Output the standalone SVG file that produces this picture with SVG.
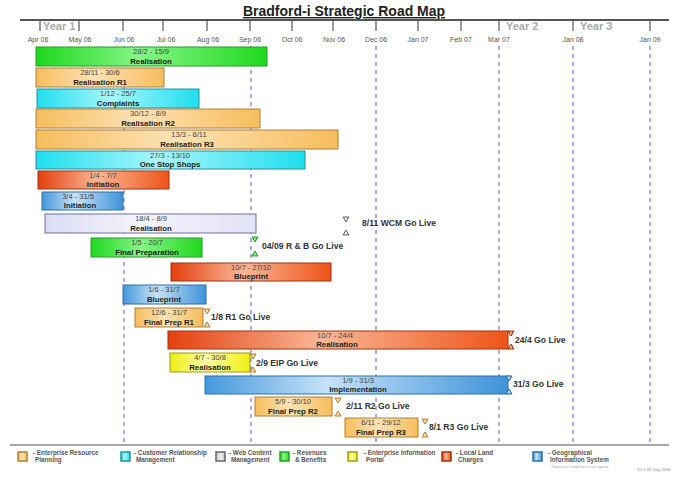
<svg xmlns="http://www.w3.org/2000/svg" width="675" height="477" viewBox="0 0 675 477">
<defs>
<linearGradient id="gG" x1="0" x2="1" y1="0" y2="0"><stop offset="0" stop-color="#1fd81f"/><stop offset="0.45" stop-color="#86f586"/><stop offset="1" stop-color="#1fd81f"/></linearGradient>
<linearGradient id="gO" x1="0" x2="1" y1="0" y2="0"><stop offset="0" stop-color="#f6bd5c"/><stop offset="0.45" stop-color="#fde2b4"/><stop offset="1" stop-color="#f6bd5c"/></linearGradient>
<linearGradient id="gC" x1="0" x2="1" y1="0" y2="0"><stop offset="0" stop-color="#1edfee"/><stop offset="0.45" stop-color="#a8f5fa"/><stop offset="1" stop-color="#1edfee"/></linearGradient>
<linearGradient id="gR" x1="0" x2="1" y1="0" y2="0"><stop offset="0" stop-color="#e4400e"/><stop offset="0.45" stop-color="#f9b696"/><stop offset="1" stop-color="#ee5418"/></linearGradient>
<linearGradient id="gB" x1="0" x2="1" y1="0" y2="0"><stop offset="0" stop-color="#4497dc"/><stop offset="0.4" stop-color="#c6e2f8"/><stop offset="1" stop-color="#3f93d8"/></linearGradient>
<linearGradient id="gL" x1="0" x2="1" y1="0" y2="0"><stop offset="0" stop-color="#dcdcf4"/><stop offset="0.45" stop-color="#f4f4fc"/><stop offset="1" stop-color="#e2e2f6"/></linearGradient>
<linearGradient id="gY" x1="0" x2="1" y1="0" y2="0"><stop offset="0" stop-color="#eeee10"/><stop offset="0.45" stop-color="#ffffa8"/><stop offset="1" stop-color="#eeee10"/></linearGradient>
<linearGradient id="gW" x1="0" x2="1" y1="0" y2="0"><stop offset="0" stop-color="#c8c8c8"/><stop offset="0.5" stop-color="#eeeeee"/><stop offset="1" stop-color="#c8c8c8"/></linearGradient>
</defs>
<style>
text{font-family:"Liberation Sans",Arial,sans-serif}
.title{font-size:14px;font-weight:bold;fill:#222;text-anchor:middle;text-decoration:underline}
.mon{font-size:7px;fill:#555;text-anchor:middle}
.yr{font-size:11px;font-weight:bold;fill:#aaa}
.tick{stroke:#555;stroke-width:1.2}
.grid{stroke:#7272dc;stroke-width:1.2;stroke-dasharray:4 4;fill:none}
.d{font-size:7.5px;fill:#444;text-anchor:middle}
.n{font-size:7.8px;font-weight:bold;fill:#222;text-anchor:middle}
.ml{font-size:8.6px;font-weight:bold;fill:#333}
.lg{font-size:6.3px;fill:#555;font-weight:bold}
.green{fill:url(#gG);stroke:#2a9a2a}
.orange{fill:url(#gO);stroke:#b0803a}
.cyan{fill:url(#gC);stroke:#2a8e9c}
.red{fill:url(#gR);stroke:#9e3410}
.blue{fill:url(#gB);stroke:#2f6ea0}
.lav{fill:url(#gL);stroke:#6e6ea0}
.yellow{fill:url(#gY);stroke:#9a9a20}
.wcm{fill:url(#gW);stroke:#666}
</style>
<rect width="675" height="477" fill="#fff"/>
<text class="title" x="344" y="16">Bradford-i Strategic Road Map</text>
<g id="timeline">
<line x1="20" y1="20" x2="669" y2="20" stroke="#555" stroke-width="2"/>
<g class="tick">
<line x1="40" y1="20" x2="40" y2="31"/><line x1="79" y1="20" x2="79" y2="31"/><line x1="123" y1="20" x2="123" y2="31"/><line x1="163" y1="20" x2="163" y2="31"/><line x1="207" y1="20" x2="207" y2="31"/><line x1="250" y1="20" x2="250" y2="31"/><line x1="292" y1="20" x2="292" y2="31"/><line x1="333" y1="20" x2="333" y2="31"/><line x1="376" y1="20" x2="376" y2="31"/><line x1="418" y1="20" x2="418" y2="31"/><line x1="461" y1="20" x2="461" y2="31"/><line x1="499" y1="20" x2="499" y2="31"/><line x1="573" y1="20" x2="573" y2="31"/><line x1="650" y1="20" x2="650" y2="31"/>
</g>
<text class="yr" x="43" y="30">Year 1</text>
<text class="yr" x="506" y="30">Year 2</text>
<text class="yr" x="580" y="30">Year 3</text>
<text class="mon" x="38" y="42">Apr 06</text><text class="mon" x="80" y="42">May 06</text><text class="mon" x="124" y="42">Jun 06</text><text class="mon" x="166" y="42">Jul 06</text><text class="mon" x="208" y="42">Aug 06</text><text class="mon" x="250" y="42">Sep 06</text><text class="mon" x="292" y="42">Oct 06</text><text class="mon" x="334" y="42">Nov 06</text><text class="mon" x="376" y="42">Dec 06</text><text class="mon" x="418" y="42">Jan 07</text><text class="mon" x="461" y="42">Feb 07</text><text class="mon" x="499" y="42">Mar 07</text><text class="mon" x="573" y="42">Jan 08</text><text class="mon" x="650" y="42">Jan 09</text>
</g>
<g id="connectors">
<line class="grid" x1="124" y1="46" x2="124" y2="442"/>
<line class="grid" x1="251" y1="46" x2="251" y2="442"/>
<line class="grid" x1="376" y1="46" x2="376" y2="442"/>
<line class="grid" x1="499" y1="46" x2="499" y2="442"/>
<line class="grid" x1="573" y1="46" x2="573" y2="442"/>
<line class="grid" x1="650" y1="46" x2="650" y2="442"/>
<line x1="10" y1="445" x2="669" y2="445" stroke="#888" stroke-width="1.5"/>
</g>
<g id="bar1"><rect class="green" x="36" y="47" width="231" height="19"/><text class="d" x="151" y="54">28/2 - 15/9</text><text class="n" x="151" y="64">Realisation</text></g>
<g id="bar2"><rect class="orange" x="36" y="68" width="128" height="19"/><text class="d" x="100" y="75">28/11 - 30/6</text><text class="n" x="100" y="85">Realisation R1</text></g>
<g id="bar3"><rect class="cyan" x="37" y="89" width="162" height="19"/><text class="d" x="118" y="96">1/12 - 25/7</text><text class="n" x="118" y="106">Complaints</text></g>
<g id="bar4"><rect class="orange" x="36" y="109" width="224" height="19"/><text class="d" x="148" y="116">30/12 - 8/9</text><text class="n" x="148" y="126">Realisation R2</text></g>
<g id="bar5"><rect class="orange" x="36" y="130" width="302" height="19"/><text class="d" x="189" y="137">13/3 - 6/11</text><text class="n" x="187" y="147">Realisation R3</text></g>
<g id="bar6"><rect class="cyan" x="36" y="151" width="269" height="18"/><text class="d" x="170" y="158">27/3 - 13/10</text><text class="n" x="170" y="167">One Stop Shops</text></g>
<g id="bar7"><rect class="red" x="38" y="171" width="131" height="18"/><text class="d" x="103" y="178">1/4 - 7/7</text><text class="n" x="103" y="187">Initiation</text></g>
<g id="bar8"><rect class="blue" x="42" y="192" width="81" height="18"/><text class="d" x="78" y="199">3/4 - 31/5</text><text class="n" x="80" y="208">Initiation</text></g>
<g id="bar9"><rect class="lav" x="45" y="214" width="211" height="19"/><text class="d" x="151" y="221">18/4 - 8/9</text><text class="n" x="151" y="231">Realisation</text></g>
<g id="bar10"><rect class="green" x="91" y="238" width="111" height="19"/><text class="d" x="147" y="245">1/5 - 20/7</text><text class="n" x="147" y="255">Final Preparation</text></g>
<g id="bar11"><rect class="red" x="171" y="263" width="160" height="18"/><text class="d" x="251" y="270">10/7 - 27/10</text><text class="n" x="251" y="279">Blueprint</text></g>
<g id="bar12"><rect class="blue" x="123" y="285" width="83" height="19"/><text class="d" x="164" y="292">1/6 - 31/7</text><text class="n" x="164" y="302">Blueprint</text></g>
<g id="bar13"><rect class="orange" x="135" y="308" width="68" height="19"/><text class="d" x="169" y="315">12/6 - 31/7</text><text class="n" x="169" y="325">Final Prep R1</text></g>
<g id="bar14"><rect class="red" x="168" y="331" width="340" height="18"/><text class="d" x="335" y="338">10/7 - 24/4</text><text class="n" x="337" y="347">Realisation</text></g>
<g id="bar15"><rect class="yellow" x="170" y="353" width="80" height="19"/><text class="d" x="210" y="360">4/7 - 30/8</text><text class="n" x="210" y="370">Realisation</text></g>
<g id="bar16"><rect class="blue" x="205" y="376" width="303" height="18"/><text class="d" x="358" y="383">1/9 - 31/3</text><text class="n" x="358" y="392">Implementation</text></g>
<g id="bar17"><rect class="orange" x="255" y="397" width="77" height="19"/><text class="d" x="293" y="404">5/9 - 30/10</text><text class="n" x="293" y="414">Final Prep R2</text></g>
<g id="bar18"><rect class="orange" x="345" y="418" width="73" height="19"/><text class="d" x="381" y="425">6/11 - 29/12</text><text class="n" x="381" y="435">Final Prep R3</text></g>
<g id="ms-wcm"><polygon class="wcm" points="343,217 349,217 346,222"/><polygon class="wcm" points="343,235 349,235 346,230"/><text class="ml" x="362" y="226">8/11 WCM Go Live</text></g>
<g id="ms-rb"><polygon class="green" points="252,237 258,237 255,242"/><polygon class="green" points="252,256 258,256 255,251"/><text class="ml" x="262" y="249">04/09 R &amp; B Go Live</text></g>
<g id="ms-r1"><polygon class="orange" points="204,309 210,309 207,314"/><polygon class="orange" points="204,327 210,327 207,322"/><text class="ml" x="211" y="320">1/8 R1 Go Live</text></g>
<g id="ms-llc"><polygon class="red" points="508,331 514,331 511,336"/><polygon class="red" points="508,349 514,349 511,344"/><text class="ml" x="515" y="343">24/4 Go Live</text></g>
<g id="ms-eip"><polygon class="orange" points="250,354 256,354 253,359"/><polygon class="orange" points="250,372 256,372 253,367"/><text class="ml" x="256" y="366">2/9 EIP Go Live</text></g>
<g id="ms-gis"><polygon class="blue" points="506,376 512,376 509,381"/><polygon class="blue" points="506,394 512,394 509,389"/><text class="ml" x="513" y="387">31/3 Go Live</text></g>
<g id="ms-r2"><polygon class="orange" points="335,398 341,398 338,403"/><polygon class="orange" points="335,416 341,416 338,411"/><text class="ml" x="346" y="409">2/11 R2 Go Live</text></g>
<g id="ms-r3"><polygon class="orange" points="422,419 428,419 425,424"/><polygon class="orange" points="422,437 428,437 425,432"/><text class="ml" x="429" y="430">8/1 R3 Go Live</text></g>
<g id="legend">
<rect class="orange" x="18" y="452" width="9" height="9" stroke-width="1.5"/><text class="lg" x="33" y="455">- Enterprise  Resource</text><text class="lg" x="35" y="462">Planning</text>
<rect class="cyan" x="121" y="452" width="9" height="9" stroke-width="1.5"/><text class="lg" x="134" y="455">- Customer Relationship</text><text class="lg" x="136" y="462">Management</text>
<rect class="wcm" x="216" y="452" width="9" height="9" stroke-width="1.5"/><text class="lg" x="229" y="455">- Web Content</text><text class="lg" x="231" y="462">Management</text>
<rect class="green" x="280" y="452" width="9" height="9" stroke-width="1.5"/><text class="lg" x="293" y="455">- Revenues</text><text class="lg" x="295" y="462">&amp; Benefits</text>
<rect class="yellow" x="348" y="452" width="9" height="9" stroke-width="1.5"/><text class="lg" x="364" y="455">- Enterprise Information</text><text class="lg" x="366" y="462">Portal</text>
<rect class="red" x="442" y="452" width="9" height="9" stroke-width="1.5"/><text class="lg" x="456" y="455">- Local Land</text><text class="lg" x="458" y="462">Charges</text>
<rect class="blue" x="533" y="452" width="9" height="9" stroke-width="1.5"/><text class="lg" x="548" y="455">- Geographical</text><text class="lg" x="550" y="462">Information System</text>
<text x="551" y="468" font-size="3.6" fill="#aaa">*Expected Completion is not agreed</text>
<text x="637" y="471" font-size="4.2" fill="#888">V1.1 19 July 2006</text>
</g>
</svg>
